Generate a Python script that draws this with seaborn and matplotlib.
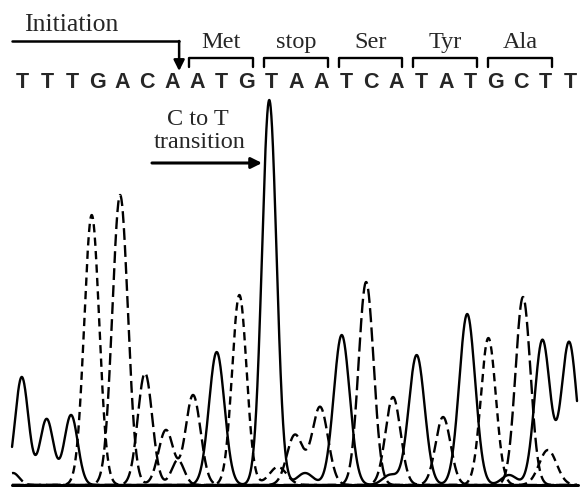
import matplotlib.pyplot as plt
import numpy as np
import pandas as pd
import seaborn as sns


SEQUENCE = list("TTTGACAATGTAATCATATGCTT")

CODON_NAMES = ["Met", "stop", "Ser", "Tyr", "Ala"]
CODON_START = [7, 10, 13, 16, 19]

# peaks: centre (in base positions), height, width (sigma, in bases)
T_POS = [-0.03, 0.97, 1.95, 7.80, 9.91, 11.35, 12.82, 14.76, 15.83, 17.86, 19.54, 20.88, 21.95]
T_HEIGHT = [108, 66, 70, 133, 385, 12, 150, 10, 130, 171, 10, 145, 143]
T_WIDTH = [0.27, 0.27, 0.27, 0.31, 0.29, 0.32, 0.32, 0.30, 0.32, 0.32, 0.30, 0.31, 0.31]

G_POS = [2.78, 8.71, 10.26, 18.71, 21.10]
G_HEIGHT = [270, 190, 18, 147, 35]
G_WIDTH = [0.30, 0.29, 0.35, 0.30, 0.35]

A_POS = [3.92, 5.76, 6.85, 10.94, 11.95, 14.88, 16.89]
A_HEIGHT = [290, 55, 90, 50, 78, 88, 68]
A_WIDTH = [0.31, 0.30, 0.30, 0.32, 0.32, 0.30, 0.30]

C_POS = [-0.38, 4.92, 6.24, 13.80, 20.10]
C_HEIGHT = [12, 112, 25, 203, 188]
C_WIDTH = [0.25, 0.29, 0.25, 0.30, 0.30]

PEAKS = {
    "T": (T_POS, T_HEIGHT, T_WIDTH),
    "G": (G_POS, G_HEIGHT, G_WIDTH),
    "A": (A_POS, A_HEIGHT, A_WIDTH),
    "C": (C_POS, C_HEIGHT, C_WIDTH),
}

SERIF = ["Liberation Serif", "DejaVu Serif"]
SANS = ["Liberation Sans", "DejaVu Sans"]


def trace(pos, height, width, x):
    y = np.zeros_like(x)
    for p, h, w in zip(pos, height, width):
        y += h * np.exp(-((x - p) ** 2) / (2 * w**2))
    return y


def main() -> None:
    sns.set_theme(style="white")
    plt.rcParams["font.family"] = SANS

    x = np.linspace(-0.42, 22.27, 2500)
    frames = []
    for base, (pos, height, width) in PEAKS.items():
        frames.append(pd.DataFrame({"pos": x, "signal": trace(pos, height, width, x), "base": base}))
    df = pd.concat(frames, ignore_index=True)

    fig = plt.figure(figsize=(5.8, 4.87), dpi=100)
    ax = fig.add_axes([0, 0, 1, 1])

    sns.lineplot(
        data=df, x="pos", y="signal", style="base",
        dashes={"T": "", "G": (3.5, 2.2), "A": (5, 2.2), "C": (6, 2.2)},
        color="black", lw=1.7, estimator=None, legend=False, ax=ax,
    )
    ax.axhline(0, xmin=12 / 580, xmax=578 / 580, color="black", lw=2.2)

    # sequence read
    for i, base in enumerate(SEQUENCE):
        ax.text(i, 397, base, ha="center", va="baseline", fontsize=15.5, fontweight="bold", family=SANS)

    # codon brackets
    for name, start in zip(CODON_NAMES, CODON_START):
        left, right = start - 0.3, start + 2.25
        ax.plot([left, left, right, right], [418, 427, 427, 418], color="black", lw=1.7)
        ax.text((left + right) / 2, 437, name, ha="center", va="baseline", fontsize=17.5, family=SERIF)

    # initiation arrow
    ax.text(1.97, 454, "Initiation", ha="center", va="baseline", fontsize=18.5, family=SERIF)
    ax.plot([-0.42, 6.29], [444, 444], color="black", lw=1.8)
    ax.annotate(
        "", xy=(6.29, 414), xytext=(6.29, 444),
        arrowprops=dict(arrowstyle="-|>", color="black", lw=1.8, mutation_scale=16, shrinkA=0, shrinkB=0),
    )

    # mutation arrow
    ax.text(7.05, 360, "C to T", ha="center", va="baseline", fontsize=17.5, family=SERIF)
    ax.text(7.1, 337, "transition", ha="center", va="baseline", fontsize=17.5, family=SERIF)
    ax.annotate(
        "", xy=(9.62, 322), xytext=(5.2, 322),
        arrowprops=dict(arrowstyle="-|>", color="black", lw=2.2, mutation_scale=16, shrinkA=0, shrinkB=0),
    )

    ax.set_xlim(-22.5 / 24.9, 557.5 / 24.9)
    ax.set_ylim(-2, 485)
    ax.axis("off")

    fig.savefig("out.png", dpi=100, facecolor="white")
    plt.close(fig)


if __name__ == "__main__":
    main()
